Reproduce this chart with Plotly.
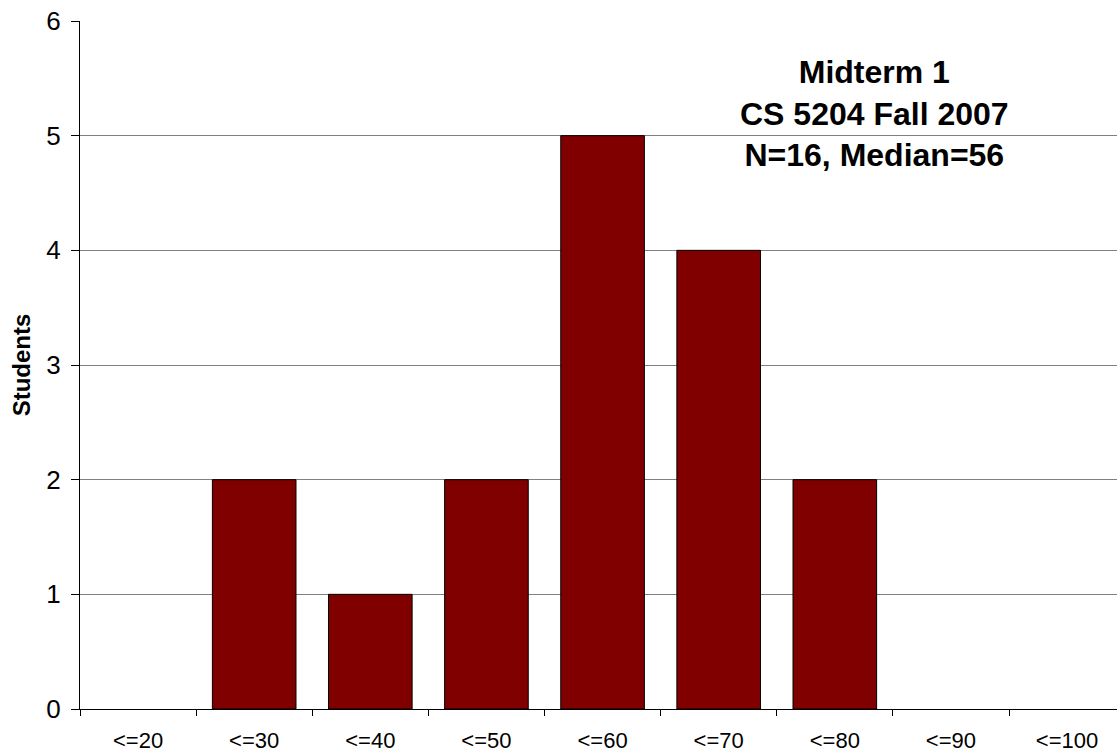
import plotly.graph_objects as go

categories = ["<=20", "<=30", "<=40", "<=50", "<=60", "<=70", "<=80", "<=90", "<=100"]
students = [0, 2, 1, 2, 5, 4, 2, 0, 0]
y_ticks = [0, 1, 2, 3, 4, 5, 6]
title_lines = ["Midterm 1", "CS 5204 Fall 2007", "N=16, Median=56"]

FONT = "Arial, Liberation Sans, sans-serif"

fig = go.Figure()
fig.add_trace(go.Bar(
    x=categories,
    y=students,
    marker=dict(
        color="#800000",
        line=dict(color="#000000", width=[1 if v > 0 else 0 for v in students]),
    ),
))

fig.update_layout(
    width=1117,
    height=754,
    margin=dict(l=80, r=0, t=21, b=45),
    paper_bgcolor="white",
    plot_bgcolor="white",
    bargap=0.28,
    showlegend=False,
    font=dict(family=FONT, color="black"),
    xaxis=dict(
        type="category",
        range=[-0.5, 8.43],
        tickson="boundaries",
        ticks="outside",
        ticklen=6,
        tickcolor="black",
        ticklabelstandoff=12,
        showgrid=False,
        showline=True,
        linecolor="black",
        linewidth=1,
        layer="above traces",
        tickfont=dict(size=22, family=FONT),
        zeroline=False,
    ),
    yaxis=dict(
        range=[0, 6],
        tickvals=y_ticks,
        ticks="outside",
        ticklen=8,
        tickcolor="black",
        ticklabelstandoff=5,
        showgrid=True,
        gridcolor="#808080",
        gridwidth=1,
        showline=True,
        linecolor="black",
        linewidth=1,
        zeroline=False,
        tickfont=dict(size=26, family=FONT),
        title=dict(text="<b>Students</b>", font=dict(size=24, family=FONT), standoff=8),
    ),
    annotations=[dict(
        x=0.766, y=0.955, xref="paper", yref="paper",
        xanchor="center", yanchor="top",
        text="<b>" + "<br>".join(title_lines) + "</b>",
        showarrow=False,
        align="center",
        font=dict(size=32, family=FONT, color="black"),
    )],
)

fig.write_html("out.html")
